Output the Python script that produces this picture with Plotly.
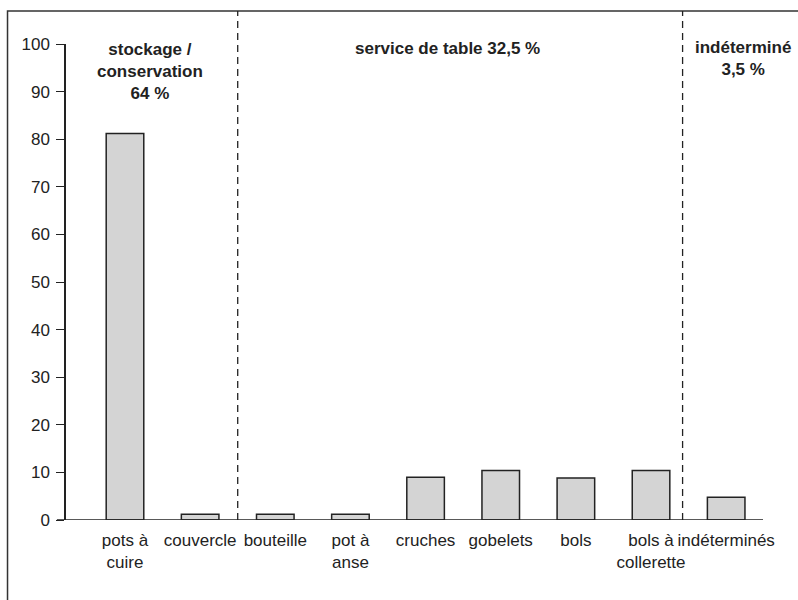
import plotly.graph_objects as go

categories = ["pots à<br>cuire", "couvercle", "bouteille", "pot à<br>anse", "cruches",
              "gobelets", "bols", "bols à<br>collerette", "indéterminés"]
values = [81.2, 1.2, 1.2, 1.2, 9.0, 10.4, 8.8, 10.4, 4.8]
y_ticks = [0, 10, 20, 30, 40, 50, 60, 70, 80, 90, 100]
group_labels = ["stockage /<br>conservation<br>64 %", "service de table 32,5 %", "indéterminé<br>3,5 %"]
separators = [1.5, 7.42]

FONT = "Liberation Sans, Arial, sans-serif"
INK = "#222222"

fig = go.Figure()
fig.add_trace(go.Bar(
    x=list(range(len(categories))), y=values, width=0.5,
    marker=dict(color="#d4d4d4", line=dict(color=INK, width=1.5)),
    hoverinfo="skip",
))

fig.update_layout(
    width=798, height=600,
    margin=dict(l=66, r=35, t=44, b=80, autoexpand=False),
    paper_bgcolor="white", plot_bgcolor="white",
    showlegend=False,
    font=dict(family=FONT, size=17, color=INK),
    xaxis=dict(
        range=[-0.785, 8.49], tickmode="array",
        tickvals=list(range(len(categories))), ticktext=categories,
        showgrid=False, zeroline=False, showline=False, ticks="",
        tickangle=0, automargin=False,
        ticklabelstandoff=8, fixedrange=True,
    ),
    yaxis=dict(
        range=[0, 100], tickvals=y_ticks, showgrid=False, zeroline=False,
        showline=True, linecolor=INK, linewidth=1.5,
        ticks="outside", ticklen=8, tickwidth=1.2, tickcolor=INK,
        automargin=False,
        ticklabelstandoff=3, fixedrange=True,
    ),
)

shapes = [
    # outer frame
    dict(type="rect", xref="paper", yref="paper", x0=-0.0839, x1=1.2, y0=-0.4, y1=1.0693,
         line=dict(color="#333333", width=1.5), fillcolor="rgba(0,0,0,0)", layer="below"),
    # x axis baseline
    dict(type="line", xref="paper", yref="y", x0=-0.013, x1=1.0, y0=0, y1=0,
         line=dict(color=INK, width=1.5)),
]
for s in separators:
    shapes.append(dict(type="line", xref="x", yref="paper", x0=s, x1=s, y0=0, y1=1.0693,
                       line=dict(color=INK, width=1.3, dash="7px,5px")))
fig.update_layout(shapes=shapes)

ann_pos = [(0.1205, 0.9423), (0.548, 0.9895), (0.971, 0.9685)]
for txt, (ax, ay) in zip(group_labels, ann_pos):
    fig.add_annotation(text="<b>" + txt + "</b>", xref="paper", yref="paper", x=ax, y=ay,
                       xanchor="center", yanchor="middle", showarrow=False, align="center",
                       font=dict(family=FONT, size=17, color=INK))

fig.write_html("out.html", config={"displayModeBar": False},
               post_script="document.body.style.margin='0';document.body.style.overflow='hidden';")
